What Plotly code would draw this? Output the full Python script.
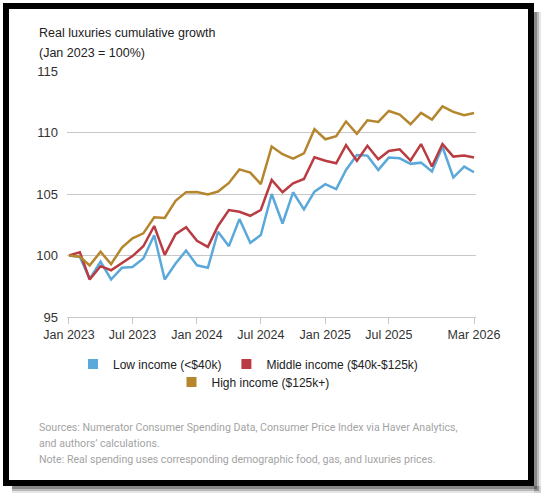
import pandas as pd
import plotly.graph_objects as go

# monthly index, Jan 2023 = 100
months = pd.date_range("2023-01-01", "2026-03-01", freq="MS")

low_income = [
    100.0, 99.9, 98.1, 99.5, 98.05, 99.0, 99.07, 99.75, 101.65, 98.05,
    99.35, 100.4, 99.2, 99.0, 101.93, 100.76, 102.96, 101.03, 101.66, 105.0,
    102.6, 105.14, 103.75, 105.19, 105.8, 105.4, 106.96, 108.17, 108.12, 106.96,
    107.96, 107.9, 107.45, 107.55, 106.83, 108.84, 106.34, 107.23, 106.77,
]
middle_income = [
    100.0, 100.27, 98.05, 99.13, 98.8, 99.35, 99.95, 100.75, 102.4, 100.05,
    101.73, 102.3, 101.2, 100.7, 102.4, 103.7, 103.56, 103.23, 103.7, 106.14,
    105.14, 105.87, 106.22, 107.99, 107.7, 107.5, 108.98, 107.69, 108.92, 107.82,
    108.5, 108.63, 107.72, 109.06, 107.23, 109.06, 108.04, 108.12, 107.96,
]
high_income = [
    100.0, 99.9, 99.2, 100.3, 99.3, 100.65, 101.4, 101.8, 103.1, 103.05,
    104.45, 105.15, 105.17, 104.97, 105.2, 105.9, 107.0, 106.74, 105.8, 108.86,
    108.23, 107.88, 108.3, 110.27, 109.45, 109.7, 110.9, 109.9, 110.99, 110.86,
    111.75, 111.45, 110.67, 111.6, 111.05, 112.12, 111.67, 111.4, 111.59,
]

series = [
    ("Low income (<$40k)", low_income, "#5ba8da", "legend"),
    ("Middle income ($40k-$125k)", middle_income, "#b93c42", "legend"),
    ("High income ($125k+)", high_income, "#b5862d", "legend2"),
]

tick_dates = ["2023-01-01", "2023-07-01", "2024-01-01", "2024-07-01",
              "2025-01-01", "2025-07-01", "2026-03-01"]
tick_text = ["Jan 2023", "Jul 2023", "Jan 2024", "Jul 2024",
             "Jan 2025", "Jul 2025", "Mar 2026"]

W, H = 546, 500
L, R, T, B = 67, 70, 71, 183
PW, PH = W - L - R, H - T - B


def px2x(px):
    return (px - L) / PW


def px2y(py):
    return (H - B - py) / PH


fig = go.Figure()

for name, vals, color, leg in series:
    fig.add_trace(go.Scatter(x=months, y=vals, mode="lines", name=name,
                             line=dict(color=color, width=2.5),
                             showlegend=False))
    # square swatch for the legend
    fig.add_trace(go.Scatter(x=[None], y=[None], mode="markers", name=name,
                             marker=dict(symbol="square", size=10, color=color),
                             legend=leg))

fig.update_xaxes(
    type="date",
    range=["2022-12-26 08:00", "2026-03-06 16:00"],
    tickvals=tick_dates, ticktext=tick_text,
    ticks="outside", ticklen=6, tickcolor="#c8c8c8",
    showline=True, linecolor="#c8c8c8", linewidth=1,
    showgrid=False, zeroline=False,
    tickfont=dict(family="Liberation Sans, Arial", size=12.5, color="#333"),
)
fig.update_yaxes(
    range=[95, 115], tickvals=[95, 100, 105, 110, 115],
    showgrid=True, gridcolor="#c8c8c8", gridwidth=1,
    zeroline=False, ticks="", ticklabelstandoff=8,
    tickfont=dict(family="Liberation Sans, Arial", size=13, color="#333"),
)

legend_font = dict(family="Liberation Sans, Arial", size=12, color="#222")

# frame and drop shadow around the whole graphic
shapes = []
for off, op in [(7, 0.15), (5, 0.3), (3, 0.5)]:
    shapes.append(dict(type="rect", xref="paper", yref="paper", layer="above",
                       x0=px2x(534), x1=px2x(534 + off),
                       y0=px2y(12), y1=px2y(486 + off),
                       fillcolor="#555", opacity=op, line_width=0))
    shapes.append(dict(type="rect", xref="paper", yref="paper", layer="above",
                       x0=px2x(12), x1=px2x(534 + off),
                       y0=px2y(486), y1=px2y(486 + off),
                       fillcolor="#555", opacity=op, line_width=0))
shapes.append(dict(type="rect", xref="paper", yref="paper", layer="above",
                   x0=px2x(6), x1=px2x(531), y0=px2y(6), y1=px2y(483),
                   line=dict(color="black", width=6), fillcolor="rgba(0,0,0,0)"))

title_font = dict(family="Liberation Sans, Arial", size=12.5, color="#222")
note_font = dict(family="Roboto, Liberation Sans", size=10.6, color="#a3a3a3")
annotations = [
    dict(text="Real luxuries cumulative growth", x=px2x(37), y=px2y(33),
         font=title_font),
    dict(text="(Jan 2023 = 100%)", x=px2x(37), y=px2y(53), font=title_font),
    dict(text="Sources: Numerator Consumer Spending Data, Consumer Price Index via Haver Analytics,",
         x=px2x(37), y=px2y(427), font=note_font),
    dict(text="and authors\u2019 calculations.", x=px2x(37), y=px2y(443), font=note_font),
    dict(text="Note: Real spending uses corresponding demographic food, gas, and luxuries prices.",
         x=px2x(37), y=px2y(459), font=note_font),
]
for a in annotations:
    a.update(xref="paper", yref="paper", xanchor="left", yanchor="middle",
             showarrow=False)

fig.update_layout(
    width=W, height=H,
    margin=dict(l=L, r=R, t=T, b=B),
    paper_bgcolor="white", plot_bgcolor="rgba(0,0,0,0)",
    shapes=shapes, annotations=annotations,
    legend=dict(orientation="h", x=px2x(248), xanchor="center",
                y=px2y(364), yanchor="middle", font=legend_font,
                bgcolor="rgba(0,0,0,0)"),
    legend2=dict(orientation="h", x=px2x(253), xanchor="center",
                 y=px2y(382), yanchor="middle", font=legend_font,
                 bgcolor="rgba(0,0,0,0)"),
)

# drop the default page margin so the figure sits at the window corner
fig.write_html("out.html", config={"displayModeBar": False},
               post_script="document.body.style.margin = '0px';")
